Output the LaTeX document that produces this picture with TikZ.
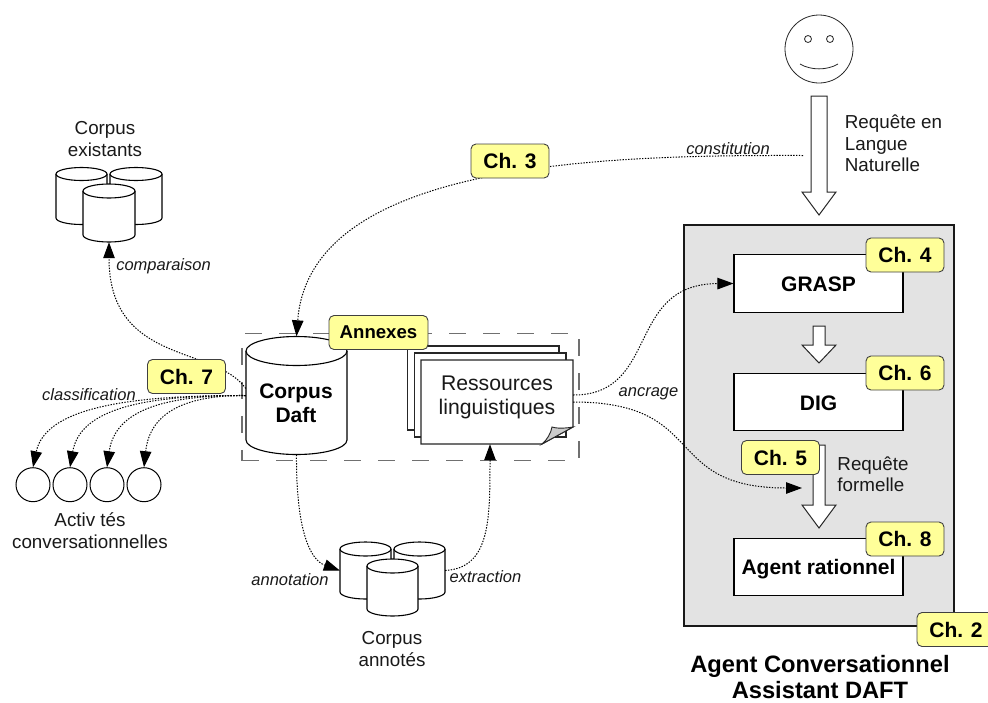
\documentclass[tikz,border=0pt]{standalone}
\usepackage{fontspec}
\setmainfont{Liberation Sans}
\usetikzlibrary{arrows.meta,calc}
\definecolor{chipfill}{HTML}{FFFF99}
\definecolor{panel}{HTML}{E3E3E3}
\definecolor{dashgray}{HTML}{707070}
\definecolor{fold}{HTML}{CCCCCC}
\tikzset{
  plain/.style={inner sep=0pt,align=center,text=black!90,font=\fontsize{18.8}{21.5}\selectfont},
  plainl/.style={plain,align=left},
  lab/.style={inner sep=0pt,text=black!90,font=\fontsize{16.5}{19}\selectfont\itshape},
  chip/.style={draw=black!75,fill=chipfill,line width=0.9pt,rounded corners=5pt,minimum width=78pt,minimum height=34pt,inner sep=0pt,text=black,font=\fontsize{21}{24}\selectfont\bfseries},
  boxx/.style={draw=black,fill=white,line width=1.1pt,inner sep=0pt,minimum width=169pt,minimum height=57.5pt,text=black,font=\fontsize{21}{24}\selectfont\bfseries},
  page/.style={draw=black!85,fill=white,line width=1.1pt},
  cyl/.style={draw=black,fill=white,line width=1.1pt},
  conn/.style={draw=black,line width=1pt,dash pattern=on 1.4pt off 1.4pt,-{Triangle[length=16pt,width=11.5pt,fill=black]}},
  blockar/.style={draw=black!85,fill=white,line width=1pt,line join=miter},
}
% name, left, right, top centre y, bottom centre y, ry, text
\newcommand{\drawcyl}[7]{%
  \pgfmathsetmacro{\cc}{(#2+#3)/2}%
  \pgfmathsetmacro{\aa}{(#3-#2)/2}%
  \pgfmathsetmacro{\kx}{0.5523*\aa}%
  \pgfmathsetmacro{\ky}{0.5523*#6}%
  \pgfmathsetmacro{\my}{(#4+#5)/2}%
  \pgfmathsetmacro{\nh}{#5-#4+2*#6}%
  \pgfmathsetmacro{\nw}{#3-#2}%
  \path[cyl] (#2,#4) -- (#2,#5)
    .. controls (#2,#5+\ky) and (\cc-\kx,#5+#6) .. (\cc,#5+#6)
    .. controls (\cc+\kx,#5+#6) and (#3,#5+\ky) .. (#3,#5) -- (#3,#4)
    .. controls (#3,#4-\ky) and (\cc+\kx,#4-#6) .. (\cc,#4-#6)
    .. controls (\cc-\kx,#4-#6) and (#2,#4-\ky) .. (#2,#4) -- cycle;
  \path[cyl] (#2,#4)
    .. controls (#2,#4+\ky) and (\cc-\kx,#4+#6) .. (\cc,#4+#6)
    .. controls (\cc+\kx,#4+#6) and (#3,#4+\ky) .. (#3,#4);
  \node[inner sep=0pt,minimum width=\nw pt,minimum height=\nh pt,text=black,align=center,font=\fontsize{21}{24}\selectfont\bfseries] (#1) at (\cc,\my) {};%
}
% x centre, half shaft, top, neck, tip
\newcommand{\blockarrow}[5]{%
  \path[blockar] (#1-#2,#3) -- (#1+#2,#3) -- (#1+#2,#4) -- (#1+17,#4) -- (#1,#5) -- (#1-17,#4) -- (#1-#2,#4) -- cycle;
}
\begin{document}
\begin{tikzpicture}[x=1pt,y=-1pt]
\useasboundingbox (0,0) rectangle (988,702);
\clip (0,0) rectangle (988,702);
% panel
\node[draw=black!90,fill=panel,line width=1.4pt,inner sep=0pt,minimum width=270pt,minimum height=401pt] (panelbox) at (819,425.5) {};
% face
\node[draw=black!85,fill=white,circle,line width=0.8pt,minimum size=68pt,inner sep=0pt] (face) at (819,49) {};
\node[draw=black!85,fill=white,circle,line width=0.8pt,minimum size=7pt,inner sep=0pt] (eyeL) at (808,39) {};
\node[draw=black!85,fill=white,circle,line width=0.8pt,minimum size=7pt,inner sep=0pt] (eyeR) at (830,39) {};
\draw[black!85,line width=0.8pt] (800,64) .. controls (811,70.5) and (827,70.5) .. (838,64);
% block arrows
\blockarrow{819}{8}{96}{192}{215}
\blockarrow{819}{6}{326}{345}{363}
\blockarrow{819}{6}{445}{505}{528}
% boxes
\node[boxx] (grasp) at (818.5,283.5) {};
\node[boxx] (dig) at (818.5,402) {};
\node[boxx] (agent) at (818.5,567) {};
\node[inner sep=0pt,text=black,font=\fontsize{21}{24}\selectfont\bfseries] (grasptxt) at (818.5,284.5) {GRASP};
\node[inner sep=0pt,text=black,font=\fontsize{21}{24}\selectfont\bfseries] (digtxt) at (818.5,403) {DIG};
\node[inner sep=0pt,text=black,font=\fontsize{21}{24}\selectfont\bfseries] (agenttxt) at (818.5,569.5) {Agent rationnel};
% existing corpora
\drawcyl{ex1}{56}{107}{174}{218}{6.5}{}
\drawcyl{ex2}{110}{162}{174}{218}{6.5}{}
\drawcyl{ex3}{83}{135}{191}{235}{7}{}
\node[plain] (extxt) at (105,139) {Corpus\\existants};
% annotated corpora
\drawcyl{an1}{340}{391}{549}{592}{7}{}
\drawcyl{an2}{394}{445}{549}{592}{7}{}
\drawcyl{an3}{367}{418}{566}{609}{7}{}
\node[plain] (antxt) at (392,649) {Corpus\\annotés};
% activity circles
\foreach \n/\xx in {1/33,2/70,3/107,4/144}
  \node[draw=black,fill=white,circle,line width=1pt,minimum size=34pt,inner sep=0pt] (act\n) at (\xx,484.7) {};
\node[plain] (acttxt) at (90,530.5) {Activ tés\\conversationnelles};
% dashed frame
\node[draw=dashgray,line width=1.3pt,dash pattern=on 17pt off 17pt,inner sep=0pt,minimum width=337pt,minimum height=127.5pt] (frame) at (410.5,397) {};
% daft
\drawcyl{daft}{246}{347}{351}{440}{14.5}{}
\node[inner sep=0pt,text=black,align=center,font=\fontsize{21}{24}\selectfont\bfseries] (dafttxt) at (296,403) {Corpus\\Daft};
% pages
\path[page] (407.7,346) rectangle (559,430);
\path[page] (414.5,353) rectangle (566,437);
\node[inner sep=0pt,minimum width=152pt,minimum height=84pt] (res) at (497,402) {};
\path[page] (421,360) -- (573,360) -- (573,427) -- (542,444) -- (421,444) -- cycle;
\path[draw=black!85,fill=fold,line width=0.9pt] (542,444) -- (573,427) .. controls (565,428.5) and (556,428.5) .. (552,427) .. controls (551,433) and (547,440) .. (542,444) -- cycle;
\node[inner sep=0pt,text=black!90,align=center,font=\fontsize{21.2}{24}\selectfont] (restxt) at (497,397) {Ressources\\linguistiques};
% free ends
\coordinate (cstart) at (803,155.5);
\coordinate (fmlend) at (802,488);
% connectors
\draw[conn] (cstart) .. controls (610,155) and (310,160) .. (daft.north);
\draw[conn] ([yshift=7pt]daft.west) .. controls (215,345) and (109,365) .. (ex3.south);
\draw[conn] (daft.west) .. controls (120,395) and (45,410) .. (act1.north);
\draw[conn] (daft.west) .. controls (140,395) and (80,410) .. (act2.north);
\draw[conn] (daft.west) .. controls (165,395) and (115,410) .. (act3.north);
\draw[conn] (daft.west) .. controls (190,395) and (150,410) .. (act4.north);
\draw[conn] (daft.south) .. controls (296,530) and (310,560) .. (an1.west);
\draw[conn] (an2.east) .. controls (490,568) and (490,520) .. ([xshift=-7pt]res.south);
\draw[conn] ([yshift=7pt]res.east) .. controls (660,395) and (625,284) .. (grasp.west);
\draw[conn] (res.east) .. controls (710,402) and (660,488) .. (fmlend);
% link labels
\node[lab] (lcomp) at (163.5,266) {comparaison};
\node[lab] (lcons) at (728,149) {constitution};
\node[lab] (lclas) at (89,395) {classification};
\node[lab] (lancr) at (648.5,394) {ancrage};
\node[lab] (lanno) at (290,580) {annotation};
\node[lab] (lextr) at (485.5,577) {extraction};
% plain labels
\node[plainl] (lreq) at (893.5,143.5) {Requête en\\Langue\\Naturelle};
\node[plainl] (lfor) at (873,474) {Requête\\formelle};
\node[inner sep=0pt,align=center,text=black,font=\fontsize{23.7}{26.5}\selectfont\bfseries] (title) at (820,677) {Agent Conversationnel\\Assistant DAFT};
% chips
\node[chip] (c3) at (510,161) {Ch. 3};
\node[chip,minimum width=99pt,font=\fontsize{18.6}{22}\selectfont\bfseries] (cann) at (378.5,332.5) {Annexes};
\node[chip] (c7) at (186.5,376.5) {Ch. 7};
\node[chip] (c4) at (905,255) {Ch. 4};
\node[chip] (c6) at (905,373) {Ch. 6};
\node[chip] (c5) at (780.5,457.5) {Ch. 5};
\node[chip] (c8) at (905,539) {Ch. 8};
\node[chip] (c2) at (956,629.5) {Ch. 2};
\end{tikzpicture}
\end{document}
